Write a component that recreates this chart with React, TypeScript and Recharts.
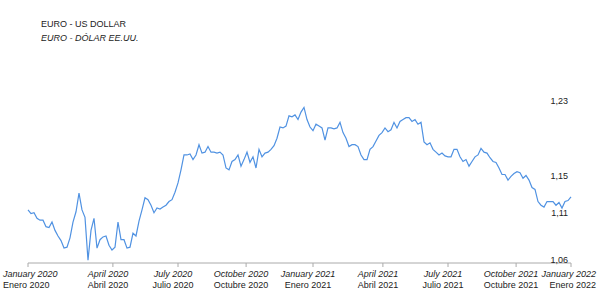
import { LineChart, Line, XAxis, YAxis } from "recharts";

// EUR/USD reference rate, one value every few trading days, Jan 2020 - Dec 2021
const rates = [
  1.122, 1.118, 1.119, 1.113, 1.111, 1.111, 1.104, 1.103, 1.109, 1.1,
  1.094, 1.089, 1.081, 1.082, 1.092, 1.109, 1.12, 1.14, 1.122, 1.114,
  1.068, 1.1, 1.113, 1.081, 1.09, 1.093, 1.094, 1.084, 1.079, 1.082,
  1.109, 1.09, 1.09, 1.081, 1.082, 1.097, 1.094, 1.11, 1.122, 1.135,
  1.133, 1.127, 1.119, 1.124, 1.123, 1.125, 1.127, 1.131, 1.133, 1.141,
  1.151, 1.165, 1.181, 1.181, 1.182, 1.176, 1.181, 1.192, 1.183, 1.184,
  1.19, 1.184, 1.184, 1.183, 1.184, 1.181, 1.167, 1.165, 1.174, 1.176,
  1.181, 1.169, 1.176, 1.184, 1.173, 1.179, 1.167, 1.187, 1.179, 1.183,
  1.184, 1.187, 1.191, 1.199, 1.211, 1.21, 1.212, 1.223, 1.222, 1.224,
  1.219, 1.227, 1.232, 1.219, 1.211, 1.207, 1.214, 1.212, 1.21, 1.197,
  1.21, 1.21, 1.209, 1.21, 1.216, 1.205, 1.199, 1.19, 1.192, 1.192,
  1.19, 1.181, 1.176, 1.176, 1.187, 1.19, 1.196, 1.202, 1.205, 1.21,
  1.206, 1.208, 1.216, 1.21, 1.217, 1.219, 1.221, 1.221, 1.217, 1.219,
  1.214, 1.216, 1.195, 1.192, 1.194, 1.187, 1.184, 1.181, 1.183, 1.18,
  1.179, 1.179, 1.187, 1.187, 1.179, 1.174, 1.176, 1.169, 1.174, 1.179,
  1.181, 1.188, 1.184, 1.183, 1.178, 1.174, 1.173, 1.167, 1.16, 1.16,
  1.154, 1.158, 1.161, 1.163, 1.162, 1.156, 1.159, 1.154, 1.146, 1.144,
  1.131, 1.127, 1.125, 1.131, 1.131, 1.131, 1.127, 1.13, 1.124, 1.131,
  1.132, 1.136,
];

// where the quarter ticks fall along the series
const tickIdx = [0, 28.3, 50, 72.7, 95, 118.3, 140, 162.7, 181];
const tickEn = [
  "January 2020", "April 2020", "July 2020", "October 2020", "January 2021",
  "April 2021", "July 2021", "October 2021", "January 2022",
];
const tickEs = [
  "Enero 2020", "Abril 2020", "Julio 2020", "Octubre 2020", "Enero 2021",
  "Abril 2021", "Julio 2021", "Octubre 2021", "Enero 2022",
];
const yTicks = [1.06, 1.11, 1.15, 1.23];

const data = rates.map((v, i) => ({ i, v }));

const FONT = "'Liberation Sans', Arial, sans-serif";

function XTick(props: any) {
  const { x, y, payload } = props;
  const k = tickIdx.indexOf(payload.value);
  const last = k === tickIdx.length - 1;
  const anchor = k === 0 ? "start" : last ? "end" : "middle";
  const tx = k === 0 ? x - 25 : last ? x + 25 : x - 5;
  return (
    <g>
      <text x={tx} y={y + 7.5} textAnchor={anchor} fontSize={9} fontStyle="italic" fill="#222" fontFamily={FONT}>
        {tickEn[k]}
      </text>
      <text x={tx} y={y + 18.5} textAnchor={anchor} fontSize={9} fill="#222" fontFamily={FONT}>
        {tickEs[k]}
      </text>
    </g>
  );
}

function YTick(props: any) {
  const { x, y, payload } = props;
  return (
    <text x={x - 3} y={y - 5} textAnchor="end" fontSize={9} fill="#222" fontFamily={FONT}>
      {payload.value.toFixed(2).replace(".", ",")}
    </text>
  );
}

export default function App() {
  return (
    <div style={{ position: "absolute", left: 0, top: 0, width: 600, height: 300, background: "#fff", fontFamily: FONT }}>
      <div style={{ position: "absolute", left: 41, top: 17, fontSize: 9, color: "#222", lineHeight: "14px" }}>
        <div>EURO - US DOLLAR</div>
        <div style={{ fontStyle: "italic" }}>EURO - DÓLAR EE.UU.</div>
      </div>
      <LineChart width={600} height={300} data={data} margin={{ top: 100, right: 0, bottom: 0, left: 28 }}>
        <XAxis
          dataKey="i"
          type="number"
          domain={[0, 181]}
          ticks={tickIdx}
          interval={0}
          height={37}
          tickSize={4}
          tickMargin={2}
          axisLine={{ stroke: "#aaa" }}
          tickLine={{ stroke: "#aaa" }}
          tick={<XTick />}
        />
        <YAxis
          orientation="right"
          domain={[1.065, 1.24]}
          ticks={yTicks}
          interval={0}
          width={29}
          axisLine={false}
          tickLine={false}
          tickSize={0}
          tickMargin={0}
          allowDataOverflow
          tick={<YTick />}
        />
        <Line
          type="linear"
          dataKey="v"
          stroke="#5092e2"
          strokeWidth={1.2}
          dot={false}
          isAnimationActive={false}
        />
      </LineChart>
    </div>
  );
}
